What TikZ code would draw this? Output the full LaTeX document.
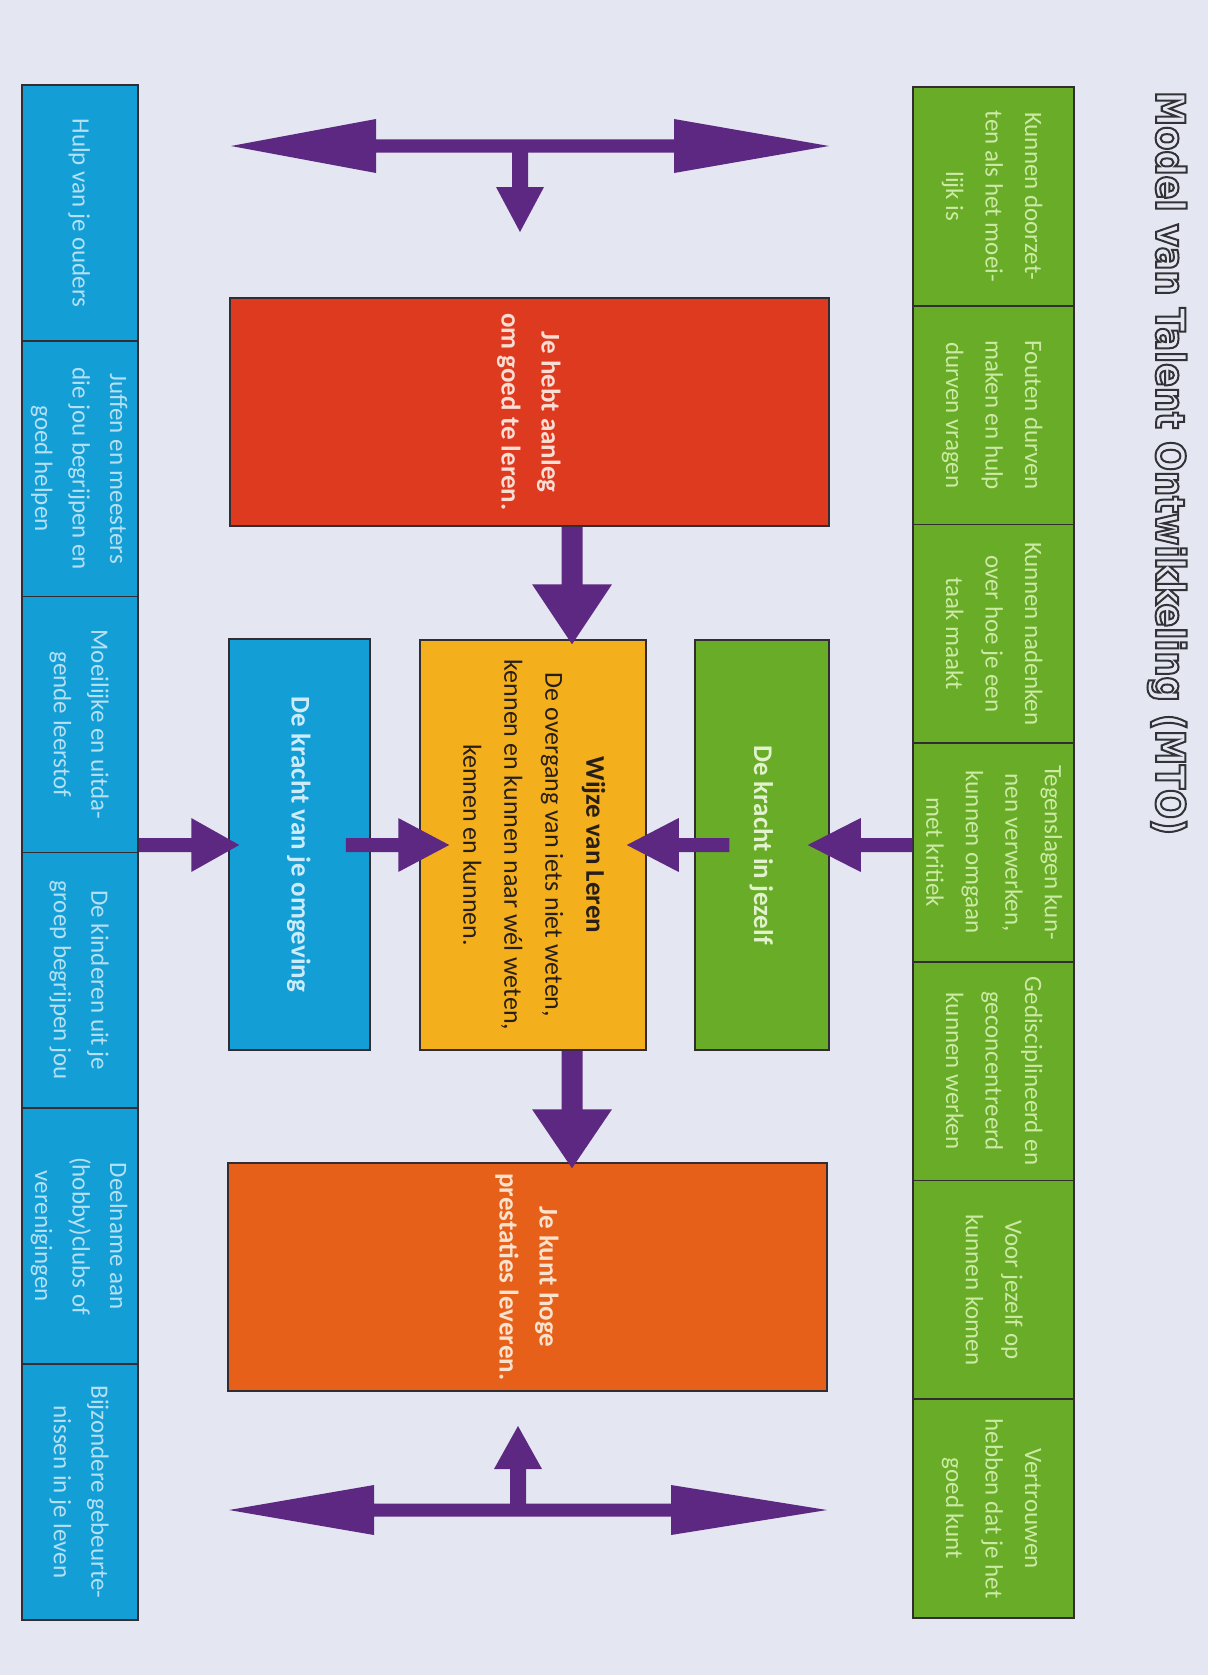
\documentclass[tikz,border=0pt]{standalone}
\usepackage{fontspec}
\usepackage{graphicx}
\usetikzlibrary{calc}
\setmainfont{Carlito}
\newfontfamily\titlefont[FakeStretch=0.88]{DejaVu Sans}

\definecolor{bg}{RGB}{228,231,241}
\definecolor{edge}{RGB}{50,45,50}
\definecolor{green1}{RGB}{104,172,40}
\definecolor{blue1}{RGB}{20,158,214}
\definecolor{red1}{RGB}{222,58,32}
\definecolor{orange1}{RGB}{231,96,25}
\definecolor{yel1}{RGB}{243,176,28}
\definecolor{purp}{RGB}{93,40,130}
\definecolor{gtext}{RGB}{205,234,165}
\definecolor{btext}{RGB}{180,224,244}
\definecolor{rtext}{RGB}{250,222,212}
\definecolor{otext}{RGB}{250,226,205}
\definecolor{gbtext}{RGB}{225,242,205}
\definecolor{bbtext}{RGB}{205,236,250}
\definecolor{ytext}{RGB}{40,30,25}
\definecolor{titleline}{RGB}{50,50,55}

\newcommand\rt[1]{\rotatebox{-90}{\begin{tabular}{@{}c@{}}#1\end{tabular}}}

% vertical fat arrow: #1 start, #2 tip, #3 half shaft, #4 half head, #5 head length
\newcommand\varrow[5]{\fill[arrowfill] let \p1=(#1), \p2=(#2), \n1={sign(\y2-\y1)} in
  ({\x1-#3},{\y1}) -- ({\x1-#3},{\y2-(\n1)*#5}) -- ({\x1-#4},{\y2-(\n1)*#5}) -- ({\x1},{\y2})
  -- ({\x1+#4},{\y2-(\n1)*#5}) -- ({\x1+#3},{\y2-(\n1)*#5}) -- ({\x1+#3},{\y1}) -- cycle;}
% horizontal fat arrow
\newcommand\harrow[5]{\fill[arrowfill] let \p1=(#1), \p2=(#2), \n1={sign(\x2-\x1)} in
  ({\x1},{\y1-#3}) -- ({\x2-(\n1)*#5},{\y1-#3}) -- ({\x2-(\n1)*#5},{\y1-#4}) -- ({\x2},{\y1})
  -- ({\x2-(\n1)*#5},{\y1+#4}) -- ({\x2-(\n1)*#5},{\y1+#3}) -- ({\x1},{\y1+#3}) -- cycle;}

\tikzset{
  box/.style={draw=edge, line width=1.5pt, inner sep=0pt},
  gcell/.style={box, fill=green1, minimum width=161pt, minimum height=218.7pt,
    text=gtext, font=\fontsize{25}{39.5}\selectfont},
  bcell/.style={box, fill=blue1, minimum width=116pt, minimum height=255.8pt,
    text=btext, font=\fontsize{25}{37.5}\selectfont},
  bigbox/.style={box, font=\bfseries\fontsize{27}{40}\selectfont},
  arrowfill/.style={fill=purp},
}

\begin{document}
\begin{tikzpicture}[x=1pt,y=-1pt]
\fill[bg] (0,0) rectangle (1208,1675);
\useasboundingbox (0,0) rectangle (1208,1675);

% title
\node[anchor=north, inner sep=0pt, text=titleline] (title) at (1167,91)
  {\rotatebox{-90}{\titlefont\bfseries\fontsize{40}{48}\selectfont\special{pdf:literal direct 1 Tr 2 w}Model van Talent Ontwikkeling (MTO)\special{pdf:literal direct 0 Tr}}};

% green strip
\node[gcell] (g1) at (993.5,196.4) {\rt{Kunnen doorzet-\\ten als het moei-\\lijk is}};
\node[gcell] (g2) at (993.5,415.1) {\rt{Fouten durven\\maken en hulp\\durven vragen}};
\node[gcell] (g3) at (993.5,633.8) {\rt{Kunnen nadenken\\over hoe je een\\taak maakt}};
\node[gcell] (g4) at (993.5,852.4) {\rt{Tegenslagen kun-\\nen verwerken,\\kunnen omgaan\\met kritiek}};
\node[gcell] (g5) at (993.5,1071.1) {\rt{Gedisciplineerd en\\geconcentreerd\\kunnen werken}};
\node[gcell] (g6) at (993.5,1289.8) {\rt{Voor jezelf op\\kunnen komen}};
\node[gcell] (g7) at (993.5,1508.5) {\rt{Vertrouwen\\hebben dat je het\\goed kunt}};

% blue strip
\node[bcell] (b1) at (80,213) {\rt{Hulp van je ouders}};
\node[bcell] (b2) at (80,468.7) {\rt{Juffen en meesters\\die jou begrijpen en\\goed helpen}};
\node[bcell] (b3) at (80,724.5) {\rt{Moeilijke en uitda-\\gende leerstof}};
\node[bcell] (b4) at (80,980.3) {\rt{De kinderen uit je\\groep begrijpen jou}};
\node[bcell] (b5) at (80,1236.1) {\rt{Deelname aan\\(hobby)clubs of\\verenigingen}};
\node[bcell] (b6) at (80,1491.9) {\rt{Bijzondere gebeurte-\\nissen in je leven}};

% central boxes
\node[bigbox, fill=red1, minimum width=599pt, minimum height=228pt, text=rtext] (red) at (529.5,412)
  {\rt{Je hebt aanleg\\om goed te leren.}};
\node[box, fill=yel1, minimum width=226pt, minimum height=410pt, text=ytext,
  font=\fontsize{26}{41}\selectfont] (yel) at (533,845)
  {\rt{{\bfseries\fontsize{27}{41}\selectfont Wijze van Leren}\\De overgang van iets niet weten,\\kennen en kunnen naar wél weten,\\kennen en kunnen.}};
\node[bigbox, fill=blue1, minimum width=141pt, minimum height=411pt, text=bbtext] (bbox) at (299.5,844.5)
  {\rt{De kracht van je omgeving}};
\node[bigbox, fill=green1, minimum width=134pt, minimum height=410pt, text=gbtext] (gbox) at (762,845)
  {\rt{De kracht in jezelf}};
\node[bigbox, fill=orange1, minimum width=599pt, minimum height=228pt, text=otext] (org) at (527.5,1277)
  {\rt{Je kunt hoge\\prestaties leveren.}};

% vertical connectors
\coordinate (ax) at (572,0);
\varrow{ax |- red.south}{$(ax |- yel.north)+(0,5)$}{10.5pt}{40pt}{60pt}
\varrow{ax |- yel.south}{$(ax |- org.north)+(0,6)$}{10.5pt}{40pt}{59pt}

% horizontal connectors
\harrow{b3.east |- yel.center}{$(bbox.west |- yel.center)+(11,0)$}{7pt}{27pt}{48pt}
\harrow{$(bbox.east |- yel.center)+(-25,0)$}{$(yel.west)+(30,0)$}{7pt}{27pt}{51pt}
\harrow{$(gbox.west |- yel.center)+(35,0)$}{$(yel.east)+(-20,0)$}{7pt}{27pt}{52pt}
\harrow{g4.west |- yel.center}{$(gbox.east |- yel.center)+(-22,0)$}{7pt}{27pt}{53pt}

% top T arrow
\coordinate (tm) at (520,146);
\coordinate (tl) at (231,146);
\coordinate (tr) at (829,146);
\coordinate (td) at (520,232);
\harrow{tm}{tl}{6.5pt}{27pt}{145pt}
\harrow{tm}{tr}{6.5pt}{27pt}{155pt}
\varrow{tm}{td}{8pt}{24pt}{45pt}

% bottom T arrow
\coordinate (bm) at (518,1510);
\coordinate (bl) at (229,1510);
\coordinate (br) at (827,1510);
\coordinate (bu) at (518,1426);
\harrow{bm}{bl}{6.5pt}{25pt}{145pt}
\harrow{bm}{br}{6.5pt}{25pt}{156pt}
\varrow{bm}{bu}{8pt}{24pt}{43pt}
\end{tikzpicture}
\end{document}
